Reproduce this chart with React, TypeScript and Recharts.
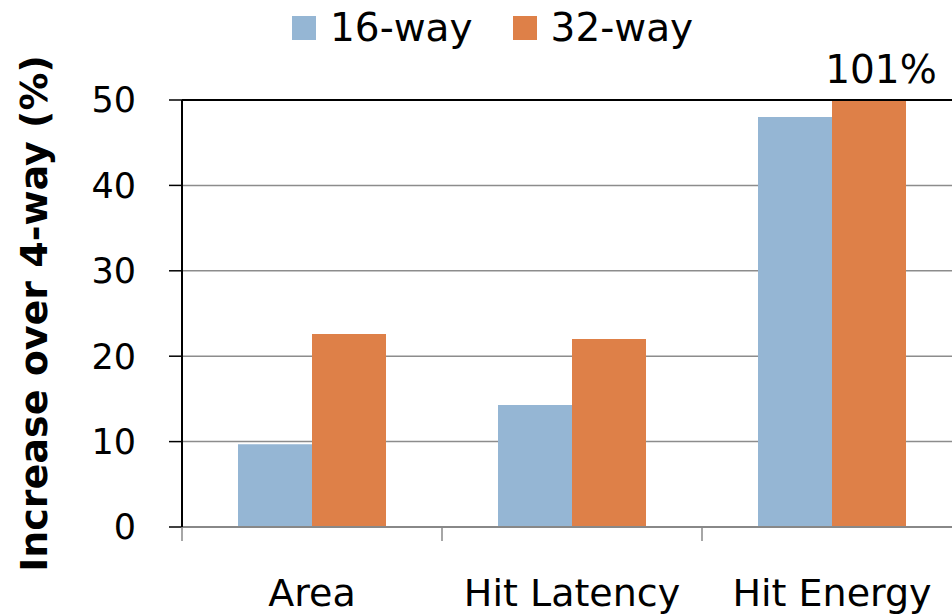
import { BarChart, Bar, XAxis, YAxis, CartesianGrid, ReferenceLine, LabelList } from 'recharts';

const categories = ['Area', 'Hit Latency', 'Hit Energy'];
const way16 = [9.7, 14.3, 48.0];
const way32 = [22.6, 22.0, 101];
const yTicks = [0, 10, 20, 30, 40, 50];
const seriesNames = ['16-way', '32-way'];
const seriesColors = ['#95B6D4', '#DE8048'];

const data = categories.map((name, i) => ({ name, w16: way16[i], w32: way32[i] }));

const FONT = '"DejaVu Sans", sans-serif';
const Y_MAX = 50;

const XTick = (props: any) => {
  const { x, y, payload } = props;
  const half = payload?.offset || 130;
  const last = payload?.index === categories.length - 1;
  return (
    <g>
      <line x1={x - half} x2={x - half} y1={y} y2={y + 14} stroke="#888" strokeWidth={1.5} />
      {last && <line x1={x + half} x2={x + half} y1={y} y2={y + 14} stroke="#888" strokeWidth={1.5} />}
      <text x={x} y={y + 52} dy="0.71em" textAnchor="middle" fontSize={38} fill="#000" fontFamily={FONT}>
        {payload.value}
      </text>
    </g>
  );
};

// value label only for the bar that runs past the axis top
const OverflowLabel = (props: any) => {
  const { x, y, width, height, value } = props;
  if (value <= Y_MAX) return null;
  const bottom = y + height;
  const topY = bottom - (height * Y_MAX) / value;
  return (
    <text x={x + width / 2 + 12} y={topY - 17} textAnchor="middle" fontSize={39} fill="#000" fontFamily={FONT}>
      {value}%
    </text>
  );
};

const App = () => {
  return (
    <div
      style={{
        position: 'fixed',
        left: 0,
        top: 0,
        width: 952,
        height: 616,
        overflow: 'hidden',
        background: '#fff',
        fontFamily: FONT,
      }}
    >
      {/* Legend */}
      <div style={{ position: 'absolute', left: 292, top: 0, height: 56, display: 'flex', alignItems: 'center' }}>
        {seriesNames.map((n, i) => (
          <div key={n} style={{ display: 'flex', alignItems: 'center', marginRight: 40 }}>
            <div style={{ width: 24, height: 24, background: seriesColors[i], marginRight: 14 }} />
            <span style={{ fontSize: 39, color: '#000', lineHeight: '52px' }}>{n}</span>
          </div>
        ))}
      </div>

      <BarChart
        width={962}
        height={616}
        data={data}
        margin={{ top: 100, right: 0, bottom: 0, left: 0 }}
        barCategoryGap={56}
        barGap={0}
      >
        <CartesianGrid vertical={false} stroke="#8c8c8c" strokeWidth={1.5} />
        <XAxis
          dataKey="name"
          height={89}
          axisLine={{ stroke: '#888', strokeWidth: 2 }}
          tickLine={false}
          tickSize={0}
          tickMargin={0}
          tick={<XTick />}
          interval={0}
        />
        <YAxis
          width={182}
          domain={[0, Y_MAX]}
          ticks={yTicks}
          allowDataOverflow
          axisLine={{ stroke: '#000', strokeWidth: 2 }}
          tickLine={{ stroke: '#000', strokeWidth: 1.5 }}
          tickSize={13}
          tickMargin={33}
          tick={{ fontSize: 35, fill: '#000', fontFamily: FONT }}
          label={{
            content: (p: any) => {
              const vb = p.viewBox || { y: 100, height: 427 };
              const cy = vb.y + vb.height / 2;
              return (
                <text
                  x={34}
                  y={cy}
                  transform={`rotate(-90, 34, ${cy})`}
                  textAnchor="middle"
                  dominantBaseline="central"
                  fontSize={38}
                  fontWeight="bold"
                  fill="#000"
                  fontFamily={FONT}
                >
                  Increase over 4-way (%)
                </text>
              );
            },
          }}
        />
        <Bar dataKey="w16" name={seriesNames[0]} fill={seriesColors[0]} isAnimationActive={false} />
        <Bar dataKey="w32" name={seriesNames[1]} fill={seriesColors[1]} isAnimationActive={false}>
          <LabelList dataKey="w32" content={<OverflowLabel />} />
        </Bar>
        <ReferenceLine y={Y_MAX} stroke="#000" strokeWidth={2} />
      </BarChart>
    </div>
  );
};

export default App;
